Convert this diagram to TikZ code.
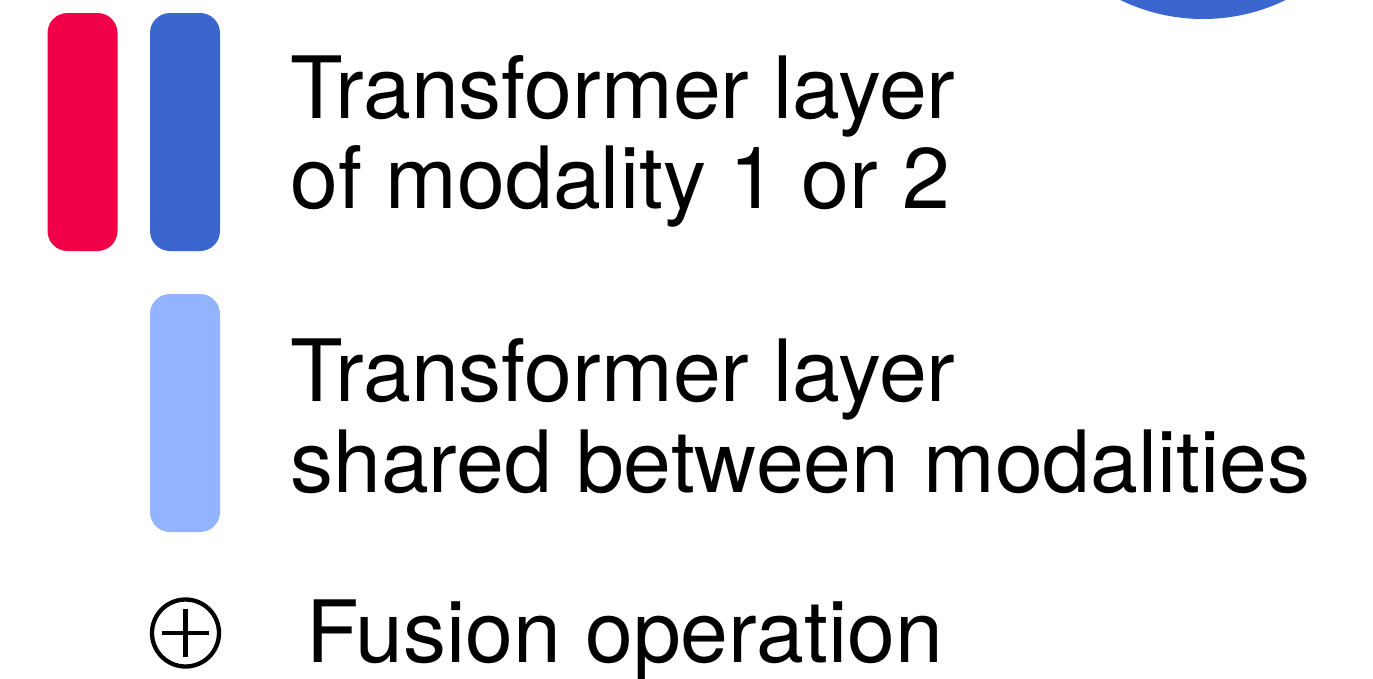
\documentclass[tikz,border=0pt]{standalone}
\usepackage{fontspec}
\setmainfont{TeX Gyre Heros}
\definecolor{modred}{RGB}{240,0,70}
\definecolor{modblue}{RGB}{58,102,206}
\definecolor{sharedblue}{RGB}{148,179,255}
\begin{document}
\begin{tikzpicture}[x=1pt,y=-1pt,
  layerbar/.style={rounded corners=20pt, minimum width=70pt, minimum height=238pt, inner sep=0pt, draw=none},
  legtext/.style={anchor=base west, inner sep=0pt, font=\fontsize{86}{90}\selectfont},
  fusesym/.style={circle, draw=black, line width=4.3pt, minimum size=67pt, inner sep=0pt}]
\clip (0,0) rectangle (1373,678);
\useasboundingbox (0,0) rectangle (1373,678);
% partial circle at top right
\fill[modblue] (1203,-169.6) circle (188.6pt);
% bars
\node[layerbar, fill=modred] (red) at (82.5,132) {};
\node[layerbar, fill=modblue] (blue) at (185,132) {};
\node[layerbar, fill=sharedblue] (shared) at (185,413) {};
% texts
\node[legtext] (t1a) at (290,118) {Transformer layer};
\node[legtext] (t1b) at (290,208) {of modality 1 or 2};
\node[legtext] (t2a) at (290,401) {Transformer layer};
\node[legtext] (t2b) at (290,492) {shared between modalities};
% fusion
\node[fusesym] (fus) at (185.5,633) {};
\draw[line width=4.3pt] ([xshift=-23.5pt]fus.center) -- ([xshift=23.5pt]fus.center);
\draw[line width=4.3pt] ([yshift=-24pt]fus.center) -- ([yshift=24pt]fus.center);
\node[legtext] (t3) at (306,662) {Fusion operation};
\end{tikzpicture}
\end{document}
